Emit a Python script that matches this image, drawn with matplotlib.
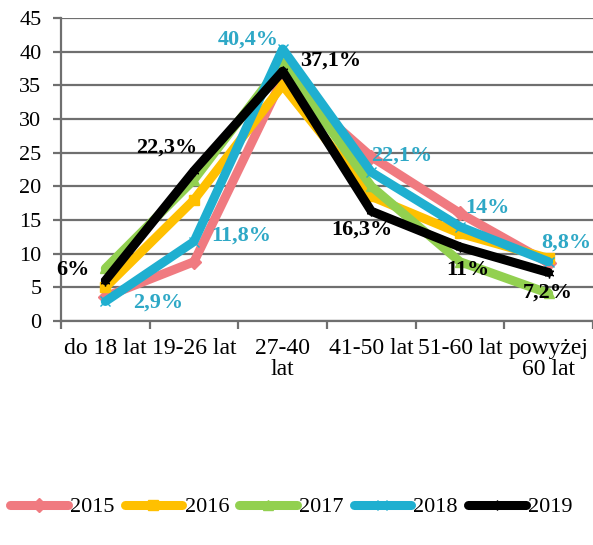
import matplotlib
matplotlib.use("Agg")
import matplotlib.pyplot as plt

categories = ["do 18 lat", "19-26 lat", "27-40\nlat", "41-50 lat", "51-60 lat", "powyżej\n60 lat"]
years = ["2015", "2016", "2017", "2018", "2019"]
v2015 = [3.6, 8.8, 36.0, 24.4, 16.0, 8.6]
v2016 = [5.0, 18.0, 35.0, 18.5, 13.0, 9.3]
v2017 = [7.8, 21.0, 38.3, 20.0, 8.8, 4.1]
v2018 = [2.9, 11.8, 40.4, 22.1, 14.0, 8.8]
v2019 = [6.0, 22.3, 37.1, 16.3, 11.0, 7.2]
series = [v2015, v2016, v2017, v2018, v2019]
colors = ["#F07A80", "#FFC000", "#92D050", "#1FAFD0", "#000000"]
markers = ["D", "s", "^", "x", (6, 2, 0)]

# labels: (series index, category index, text, dx, dy)
labels = [
    (3, 2, "40,4%", -34, 9), (4, 2, "37,1%", 48, 11),
    (4, 1, "22,3%", -27, 23), (3, 1, "11,8%", 47, 6),
    (4, 0, "6%", -32, 11), (3, 0, "2,9%", 53, -1),
    (3, 3, "22,1%", 30, 17), (3, 4, "14%", 27, 19),
    (4, 3, "16,3%", -9, -18), (4, 4, "11%", 8, -23),
    (3, 5, "8,8%", 18, 19), (4, 5, "7,2%", -1, -20),
]
label_colors = {3: "#2EA8C6", 4: "#000000"}

plt.rcParams['font.family'] = ['Liberation Serif', 'DejaVu Serif']

fig = plt.figure(figsize=(5.93, 5.45), dpi=100)
ax = fig.add_axes([61/593, 1-321/545, 1-61/593, (321-18)/545])

x = list(range(len(categories)))
for vals, c, m, yr in zip(series, colors, markers, years):
    ax.plot(x, vals, color=c, lw=6.5, marker=m, markersize=7, label=yr,
            solid_capstyle='round', solid_joinstyle='round', zorder=3)

for si, ci, txt, dx, dy in labels:
    ax.annotate(txt, xy=(ci, series[si][ci]), xytext=(dx, dy), textcoords='offset pixels',
                ha='center', va='center', fontsize=16, fontweight='bold',
                color=label_colors[si], zorder=5)

ax.set_xlim(-0.5, 5.5)
ax.set_ylim(0, 45)
ax.set_yticks(range(0, 46, 5))
ax.yaxis.grid(True, color='#6f6f6f', lw=1.6)
ax.set_axisbelow(True)
ax.set_xticks(x)
ax.set_xticklabels(categories, fontsize=17, linespacing=1.0)
ax.set_xticks([i - 0.5 for i in range(7)], minor=True)
ax.tick_params(axis='x', which='major', length=0, pad=12)
ax.tick_params(axis='x', which='minor', length=6, width=1.6, color='#6f6f6f')
ax.tick_params(axis='y', length=6, width=1.6, color='#6f6f6f', labelsize=16, pad=8)
for s in ['top', 'right']:
    ax.spines[s].set_visible(False)
ax.spines['left'].set_color('#6f6f6f')
ax.spines['left'].set_linewidth(1.6)
ax.spines['bottom'].set_color('#6f6f6f')
ax.spines['bottom'].set_linewidth(1.6)

leg = fig.legend(loc='center left', bbox_to_anchor=(10/593, 1-507/545), ncol=5, frameon=False,
                 fontsize=16, handlelength=2.6, handletextpad=0.1, columnspacing=0.45,
                 borderaxespad=0, borderpad=0)

fig.savefig("out.png", dpi=100)
